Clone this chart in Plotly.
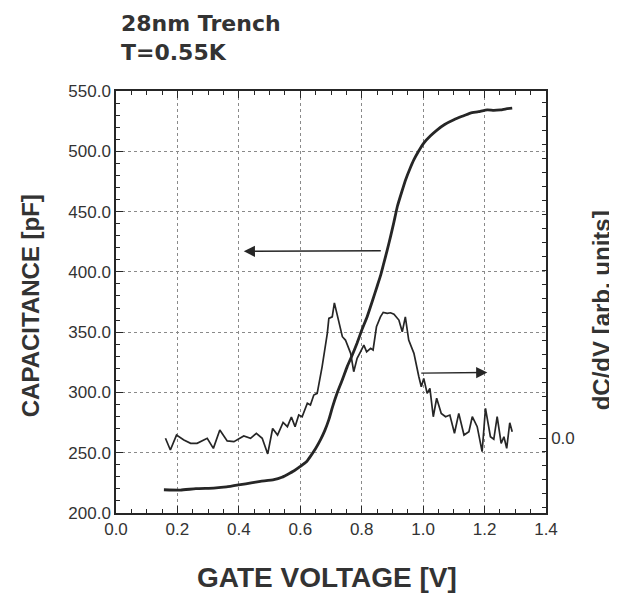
import plotly.graph_objects as go

# ---- data ----
title_lines = ["28nm Trench", "T=0.55K"]
x_title = "GATE VOLTAGE [V]"
y_title = "CAPACITANCE [pF]"
y2_title = "dC/dV [arb. units]"

cap_v = [0.156, 0.21, 0.26, 0.318, 0.36, 0.405, 0.44, 0.47, 0.514, 0.54, 0.557, 0.58, 0.60,
         0.62, 0.633, 0.65, 0.666, 0.68, 0.693, 0.705, 0.72, 0.737, 0.753, 0.77, 0.785, 0.80,
         0.818, 0.835, 0.85, 0.862, 0.872, 0.883, 0.894, 0.905, 0.916, 0.93, 0.943, 0.957,
         0.97, 0.985, 1.002, 1.024, 1.046, 1.07, 1.10, 1.127, 1.154, 1.18, 1.209, 1.23,
         1.252, 1.27, 1.29]
cap_pf = [219.3, 219.0, 220.2, 220.7, 221.6, 223.5, 225.0, 226.2, 227.6, 229.6, 231.8, 235.0, 238.6,
          242.5, 247.0, 253.5, 260.8, 268.5, 277.4, 288.0, 299.5, 310.5, 321.6, 331.5, 341.0, 351.5,
          363.0, 376.0, 387.9, 397.5, 407.3, 418.0, 429.4, 441.5, 454.2, 466.0, 476.4, 485.5,
          493.0, 500.0, 506.8, 512.8, 517.8, 522.2, 526.1, 529.0, 531.7, 532.8, 534.4, 534.0,
          534.4, 535.2, 535.8]

didv_v = [0.161, 0.177, 0.197, 0.221, 0.243, 0.264, 0.297, 0.317, 0.338, 0.362, 0.384, 0.416,
          0.438, 0.457, 0.476, 0.494, 0.510, 0.526, 0.544, 0.558, 0.571, 0.583, 0.595, 0.606,
          0.623, 0.633, 0.644, 0.655, 0.671, 0.688, 0.693, 0.704, 0.711, 0.726, 0.737, 0.747,
          0.764, 0.774, 0.785, 0.796, 0.807, 0.816, 0.829, 0.837, 0.848, 0.861, 0.870, 0.883,
          0.894, 0.905, 0.921, 0.932, 0.942, 0.953, 0.970, 0.986, 0.994, 1.002, 1.013, 1.022,
          1.033, 1.044, 1.059, 1.073, 1.087, 1.102, 1.116, 1.133, 1.149, 1.160, 1.176, 1.192,
          1.203, 1.219, 1.230, 1.241, 1.254, 1.263, 1.272, 1.282, 1.290]
didv = [-0.02, -0.86, 0.21, -0.14, -0.38, -0.38, -0.02, -0.74, 0.57, -0.21, -0.26, 0.14,
        -0.02, 0.34, -0.02, -1.14, 0.68, 0.21, 1.11, 0.81, 1.50, 0.81, 1.64, 1.52,
        2.48, 2.36, 3.07, 3.19, 5.09, 7.48, 8.55, 8.66, 9.66, 8.19, 7.24, 7.00,
        6.05, 4.74, 5.69, 6.16, 6.64, 6.16, 6.41, 6.29, 7.95, 8.66, 8.98, 8.91,
        8.95, 8.84, 8.43, 7.59, 8.66, 7.00, 6.05, 4.38, 3.66, 4.26, 3.19, 3.55,
        1.52, 2.84, 1.76, 1.52, 1.64, 0.34, 1.76, 0.21, 0.45, 1.52, 0.81, -0.98,
        2.12, 0.09, -0.09, 1.52, -0.38, 0.09, -0.74, 1.09, 0.45]

x_range = [0.0, 1.4]
y_range = [200.0, 550.0]
y2_range = [-5.36, 24.8]
y2_tickvals = [0.0]
y2_ticktext = ["0.0"]

# arrows: (tip_v, tip_pf, tail_v, tail_pf)
arrow_left = (0.416, 417.0, 0.867, 417.5)
arrow_right = (1.209, 316.5, 0.989, 316.0)

# ---- figure ----
ink = "#262626"
fig = go.Figure()
fig.add_trace(go.Scatter(x=cap_v, y=cap_pf, mode="lines",
                         line=dict(color=ink, width=2.8, shape="spline", smoothing=0.4),
                         showlegend=False, hoverinfo="skip"))
fig.add_trace(go.Scatter(x=didv_v, y=didv, mode="lines", yaxis="y2",
                         line=dict(color=ink, width=1.7),
                         showlegend=False, hoverinfo="skip"))

tickfont = dict(family="Liberation Sans, Arial, sans-serif", size=17, color="#333")
common = dict(showline=True, linecolor=ink, linewidth=1.5, ticks="inside",
              tickcolor=ink, tickwidth=1.3, ticklen=7, tickfont=tickfont,
              zeroline=False, automargin=False)

# the page body adds an 8px offset; the figure is sized so the plot lands where the reference has it
fig.update_layout(
    width=609, height=589,
    margin=dict(l=108, r=71, t=83, b=84),
    paper_bgcolor="white", plot_bgcolor="white",
    xaxis=dict(range=x_range, dtick=0.2, tick0=0, tickformat=".1f", mirror="ticks",
               showgrid=True, gridcolor="#8a8a8a", griddash="dot", gridwidth=1,
               minor=dict(dtick=0.05, tick0=0, ticklen=4, tickcolor=ink, ticks="inside",
                          showgrid=False),
               **common),
    yaxis=dict(range=y_range, dtick=50, tick0=200, tickformat=".1f", mirror=True,
               showgrid=True, gridcolor="#8a8a8a", griddash="dot", gridwidth=1,
               minor=dict(dtick=10, tick0=200, ticklen=4, tickcolor=ink, ticks="inside",
                          showgrid=False),
               **common),
    yaxis2=dict(range=y2_range, overlaying="y", side="right", tickmode="array",
                tickvals=y2_tickvals, ticktext=y2_ticktext, showgrid=False,
                minor=dict(tickmode="linear", dtick=1, tick0=0, ticklen=4,
                           tickcolor=ink, ticks="inside", showgrid=False),
                **common),
)

bold = "Liberation Sans, Arial, sans-serif"
fig.add_annotation(text="<br>".join(title_lines), xref="paper", yref="paper",
                   x=0.008, y=1.195, xanchor="left", yanchor="top", align="left",
                   showarrow=False,
                   font=dict(family="DejaVu Sans, sans-serif", size=22, color="#333", weight="bold"))
fig.add_annotation(text=x_title, xref="paper", yref="paper", x=0.49, y=-0.152,
                   xanchor="center", yanchor="middle", showarrow=False,
                   font=dict(family=bold, size=28, color="#333", weight="bold"))
fig.add_annotation(text=y_title, xref="paper", yref="paper", x=-0.2, y=0.49,
                   xanchor="center", yanchor="middle", textangle=-90, showarrow=False,
                   font=dict(family=bold, size=24, color="#333", weight="bold"))
fig.add_annotation(text=y2_title, xref="paper", yref="paper", x=1.13, y=0.48,
                   xanchor="center", yanchor="middle", textangle=-90, showarrow=False,
                   font=dict(family=bold, size=24, color="#333", weight="bold"))

for tip_v, tip_c, tail_v, tail_c in (arrow_left, arrow_right):
    fig.add_annotation(x=tip_v, y=tip_c, ax=tail_v, ay=tail_c, xref="x", yref="y",
                       axref="x", ayref="y", text="", showarrow=True,
                       arrowhead=2, arrowsize=1.6, arrowwidth=1.4, arrowcolor=ink)

fig.write_html("out.html")
